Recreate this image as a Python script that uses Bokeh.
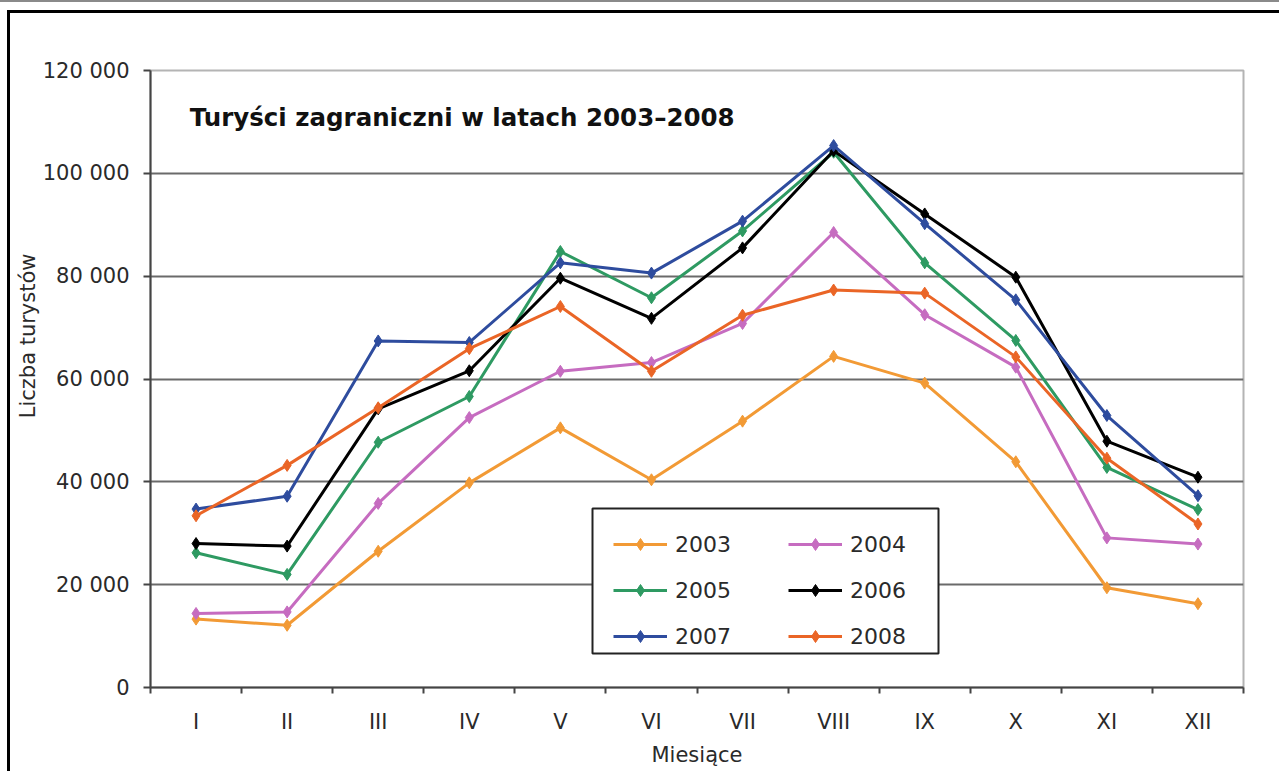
from bokeh.plotting import figure
from bokeh.models import (Range1d, FixedTicker, Legend, LegendItem, Label, Title,
                          BoxAnnotation, InlineStyleSheet)
from bokeh.embed import file_html
from bokeh.resources import INLINE

months = ["I", "II", "III", "IV", "V", "VI", "VII", "VIII", "IX", "X", "XI", "XII"]
years = ["2003", "2004", "2005", "2006", "2007", "2008"]

y2003 = [13300, 12100, 26500, 39800, 50500, 40400, 51800, 64400, 59200, 43900, 19400, 16300]
y2004 = [14400, 14700, 35800, 52500, 61500, 63200, 70800, 88500, 72500, 62300, 29100, 27900]
y2005 = [26200, 22000, 47700, 56600, 84800, 75800, 88800, 104100, 82600, 67500, 42800, 34600]
y2006 = [28000, 27500, 54200, 61600, 79600, 71800, 85500, 104400, 92100, 79800, 47900, 40900]
y2007 = [34700, 37200, 67400, 67100, 82600, 80600, 90700, 105400, 90200, 75400, 52900, 37300]
y2008 = [33400, 43200, 54400, 65900, 74100, 61500, 72400, 77300, 76700, 64300, 44600, 31800]

y_ticks = [0, 20000, 40000, 60000, 80000, 100000, 120000]
y_tick_labels = ["0", "20 000", "40 000", "60 000", "80 000", "100 000", "120 000"]

title_text = "Turyści zagraniczni w latach 2003–2008"
x_title = "Miesiące"
y_title = "Liczba turystów"

colors = ["#F29A35", "#C66CC0", "#2E9A62", "#000000", "#2E4C9E", "#EA6526"]
series = [y2003, y2004, y2005, y2006, y2007, y2008]

FONT = "DejaVu Sans"
TXT = "#2a2a2a"

W, H = 1279, 771
FL, FT, FR, FB = 150, 70, 36, 84  # frame borders in px
x_pos = list(range(1, len(months) + 1))
x0, x1 = 0.5, len(months) + 0.5
y0, y1 = 0, 120000

p = figure(width=W, height=H, output_backend="svg", toolbar_location=None,
           x_range=Range1d(x0, x1), y_range=Range1d(y0, y1),
           min_border_left=FL, min_border_right=FR, min_border_top=FT,
           min_border_bottom=FB)

css = """
:host {
  background:
    linear-gradient(#000, #000) 7px 10px / 3px 761px no-repeat,
    linear-gradient(#000, #000) 7px 10px / 1272px 3px no-repeat,
    linear-gradient(#8a8a8a, #8a8a8a) 0px 0px / 1279px 2px no-repeat,
    #ffffff;
}
"""
p.stylesheets = [InlineStyleSheet(css=css)]

p.background_fill_color = "white"
p.border_fill_color = "white"
p.border_fill_alpha = 0
p.outline_line_color = "#b4b4b4"
p.outline_line_width = 2

# grid
p.xgrid.visible = False
p.ygrid.ticker = FixedTicker(ticks=y_ticks[1:-1])
p.ygrid.grid_line_color = "#6a6a6a"
p.ygrid.grid_line_width = 2

# x axis
xa = p.xaxis[0]
xa.ticker = FixedTicker(ticks=x_pos, minor_ticks=[i + 0.5 for i in range(0, len(months) + 1)])
xa.major_label_overrides = {i: m for i, m in zip(x_pos, months)}
xa.major_tick_out = 0
xa.major_tick_in = 0
xa.minor_tick_out = 6
xa.minor_tick_in = 0
xa.minor_tick_line_color = "#444444"
xa.minor_tick_line_width = 2
xa.axis_line_color = "#444444"
xa.axis_line_width = 2
xa.major_label_text_font = FONT
xa.major_label_text_font_size = "21px"
xa.major_label_text_color = TXT
xa.major_label_standoff = 16
xa.axis_label = x_title
xa.axis_label_text_font = FONT
xa.axis_label_text_font_size = "21px"
xa.axis_label_text_font_style = "normal"
xa.axis_label_text_color = TXT
xa.axis_label_standoff = 6

# y axis
ya = p.yaxis[0]
ya.ticker = FixedTicker(ticks=y_ticks, minor_ticks=[])
ya.major_label_overrides = {t: s for t, s in zip(y_ticks, y_tick_labels)}
ya.major_tick_out = 7
ya.major_tick_in = 0
ya.major_tick_line_color = "#444444"
ya.major_tick_line_width = 2
ya.axis_line_color = "#444444"
ya.axis_line_width = 2
ya.major_label_text_font = FONT
ya.major_label_text_font_size = "21px"
ya.major_label_text_color = TXT
ya.major_label_standoff = 14

# y title: side title, shifted towards the top as in the reference
p.add_layout(Title(text=y_title, align="right", offset=183, standoff=0,
                   text_font=FONT, text_font_size="21px", text_font_style="normal",
                   text_color=TXT), "left")

# chart title inside plot
p.add_layout(Label(x=0.93, y=110900, text=title_text,
                   text_font=FONT, text_font_size="24.5px", text_font_style="bold",
                   text_color="#111111", text_align="left", text_baseline="middle"))

items = {}
for yr, col, ys in zip(years, colors, series):
    r1 = p.line(x_pos, ys, line_color=col, line_width=3)
    r2 = p.scatter(x_pos, ys, marker="diamond", size=12, fill_color=col,
                   line_color=col, line_width=1)
    items[yr] = LegendItem(label=yr, renderers=[r1, r2])

# legend frame (pixel box converted through the ranges)
sx = (W - FL - FR) / (x1 - x0)
sy = (H - FT - FB) / (y1 - y0)
def px_x(px):
    return x0 + (px - FL) / sx
def px_y(py):
    return y0 + (H - FB - py) / sy

p.add_layout(BoxAnnotation(left=px_x(592), right=px_x(938), top=px_y(508), bottom=px_y(653),
                           fill_color="white", fill_alpha=1,
                           line_color="#222222", line_alpha=1, line_width=2,
                           level="annotation"))

common = dict(orientation="vertical", border_line_color=None,
              background_fill_alpha=0,
              label_text_font=FONT, label_text_font_size="22px",
              label_text_color=TXT, glyph_width=54, glyph_height=30,
              label_height=30, label_width=50, label_standoff=8,
              spacing=16, padding=10, margin=0)
legA = Legend(items=[items[k] for k in ["2003", "2005", "2007"]],
              location=(623 - 10 - FL, H - FB - 651), **common)
legB = Legend(items=[items[k] for k in ["2004", "2006", "2008"]],
              location=(798 - 10 - FL, H - FB - 651), **common)
p.add_layout(legA, "center")
p.add_layout(legB, "center")

open("out.html", "w").write(file_html(p, INLINE))
